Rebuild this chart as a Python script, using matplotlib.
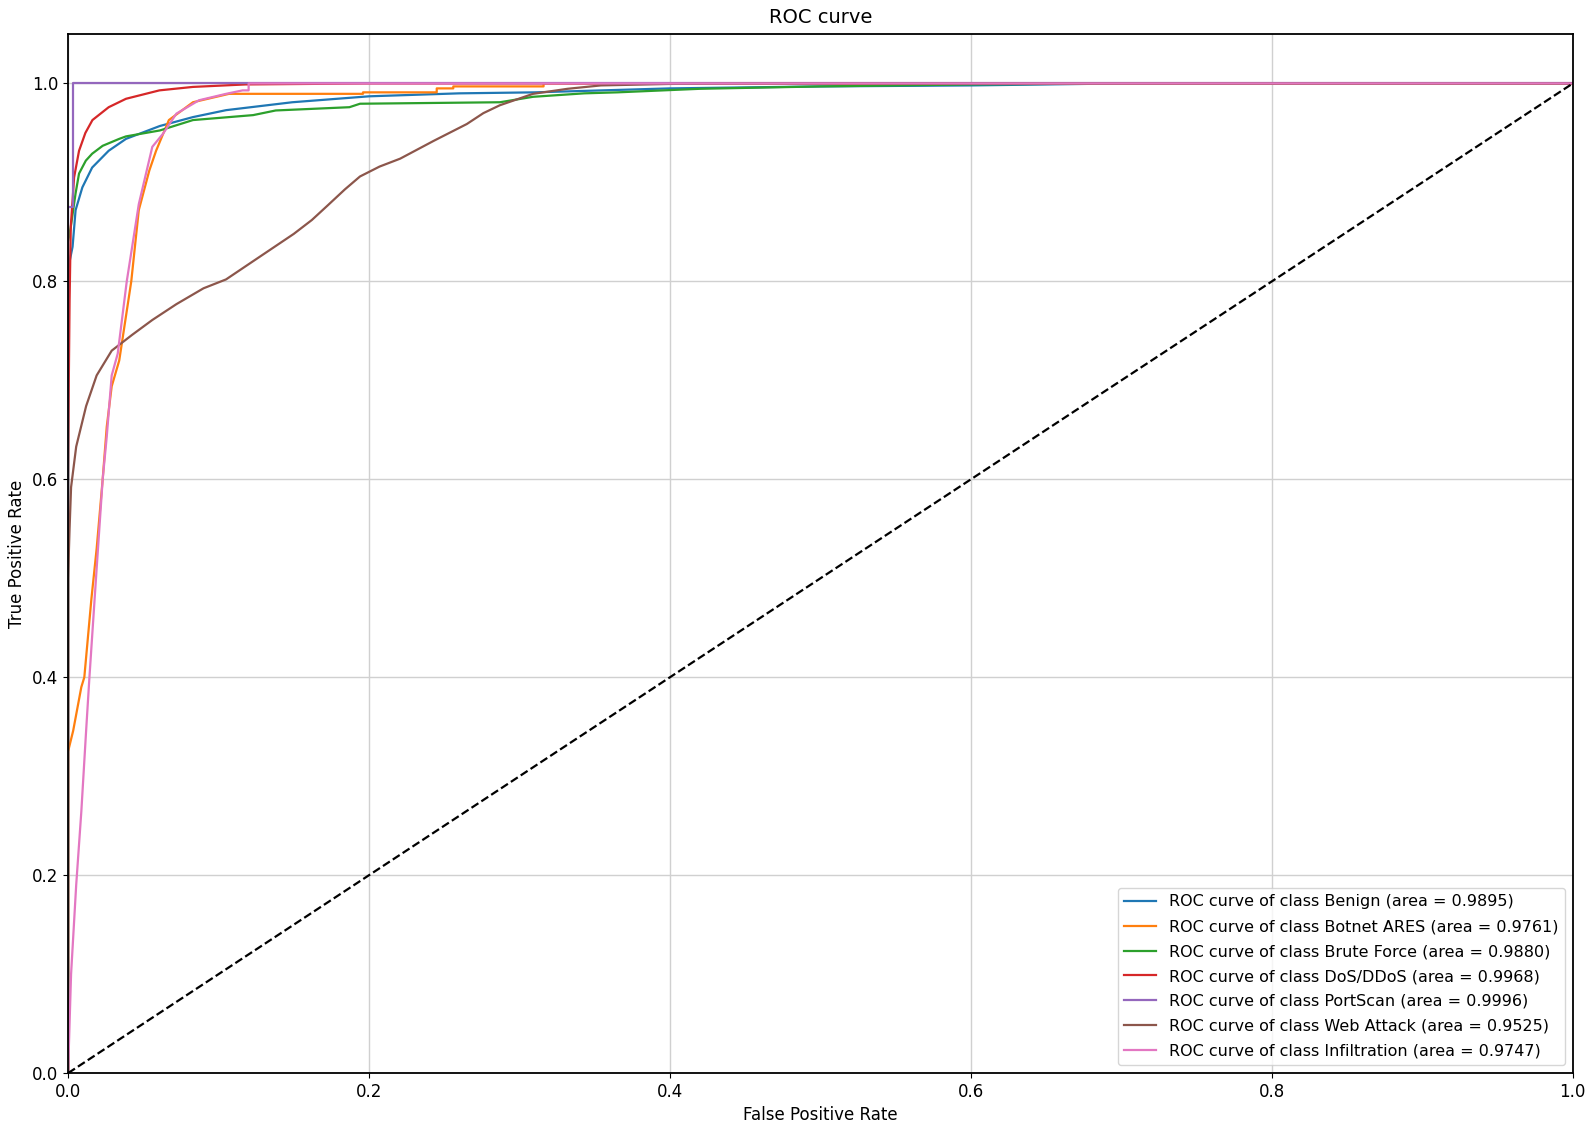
import matplotlib
matplotlib.use('Agg')
import matplotlib.pyplot as plt

# class names and AUC values from the legend
classes = ['Benign', 'Botnet ARES', 'Brute Force', 'DoS/DDoS', 'PortScan', 'Web Attack', 'Infiltration']
areas = [0.9895, 0.9761, 0.9880, 0.9968, 0.9996, 0.9525, 0.9747]

# ROC points
benign_fpr = [0, 0, 0.001, 0.003, 0.005, 0.0095, 0.016, 0.027, 0.0385, 0.061, 0.083, 0.105, 0.149, 0.2, 0.26, 0.31, 0.4, 0.5, 0.6, 0.7, 1.0]
benign_tpr = [0, 0.78, 0.82, 0.835, 0.872, 0.895, 0.915, 0.932, 0.944, 0.957, 0.966, 0.973, 0.981, 0.987, 0.99, 0.991, 0.995, 0.997, 0.998, 1.0, 1.0]

botnet_fpr = [0, 0, 0.0034, 0.0088, 0.0108, 0.0155, 0.019, 0.023, 0.0257, 0.029, 0.034, 0.036, 0.042, 0.047, 0.054, 0.0585, 0.067, 0.083, 0.107, 0.196, 0.196, 0.245, 0.245, 0.256, 0.256, 0.316, 0.316, 1.0]
botnet_tpr = [0, 0.325, 0.346, 0.39, 0.4, 0.479, 0.53, 0.6, 0.653, 0.694, 0.72, 0.74, 0.8, 0.872, 0.912, 0.932, 0.963, 0.981, 0.9895, 0.9895, 0.991, 0.991, 0.995, 0.995, 0.997, 0.997, 1.0, 1.0]

brute_fpr = [0, 0, 0.0018, 0.005, 0.0073, 0.0118, 0.016, 0.023, 0.034, 0.0385, 0.061, 0.083, 0.123, 0.138, 0.187, 0.194, 0.287, 0.309, 0.343, 0.365, 0.42, 0.5, 0.6, 0.7, 1.0]
brute_tpr = [0, 0.84, 0.855, 0.889, 0.909, 0.922, 0.929, 0.937, 0.944, 0.9465, 0.9525, 0.963, 0.968, 0.9727, 0.976, 0.9795, 0.981, 0.9865, 0.99, 0.991, 0.9946, 0.997, 0.999, 1.0, 1.0]

dos_fpr = [0, 0, 0.0005, 0.001, 0.0018, 0.004, 0.0073, 0.0115, 0.0162, 0.027, 0.0385, 0.0607, 0.083, 0.118, 0.2, 1.0]
dos_tpr = [0, 0.6, 0.7, 0.78, 0.855, 0.905, 0.932, 0.95, 0.963, 0.976, 0.9845, 0.993, 0.9965, 0.999, 1.0, 1.0]

portscan_fpr = [0, 0, 0.003, 0.003, 1.0]
portscan_tpr = [0, 0.875, 0.875, 1.0, 1.0]

web_fpr = [0, 0, 0.001, 0.002, 0.0054, 0.012, 0.019, 0.029, 0.0426, 0.056, 0.072, 0.09, 0.105, 0.127, 0.15, 0.162, 0.172, 0.184, 0.194, 0.207, 0.2207, 0.243, 0.265, 0.276, 0.287, 0.309, 0.332, 0.354, 0.4, 0.45, 1.0]
web_tpr = [0, 0.5, 0.55, 0.592, 0.633, 0.674, 0.705, 0.73, 0.746, 0.761, 0.777, 0.793, 0.802, 0.8245, 0.848, 0.862, 0.876, 0.893, 0.906, 0.916, 0.924, 0.942, 0.959, 0.97, 0.978, 0.9895, 0.9946, 0.998, 0.9995, 1.0, 1.0]

infil_fpr = [0, 0.002, 0.0054, 0.0088, 0.012, 0.0142, 0.019, 0.023, 0.0257, 0.029, 0.033, 0.039, 0.0426, 0.047, 0.056, 0.063, 0.072, 0.087, 0.105, 0.116, 0.12, 0.12, 1.0]
infil_tpr = [0, 0.1, 0.19, 0.264, 0.346, 0.4, 0.51, 0.6, 0.643, 0.705, 0.727, 0.8, 0.835, 0.878, 0.936, 0.949, 0.9695, 0.983, 0.9895, 0.993, 0.993, 1.0, 1.0]

curves = [(benign_fpr, benign_tpr), (botnet_fpr, botnet_tpr), (brute_fpr, brute_tpr),
          (dos_fpr, dos_tpr), (portscan_fpr, portscan_tpr), (web_fpr, web_tpr),
          (infil_fpr, infil_tpr)]

fig = plt.figure(figsize=(15.94, 11.32), dpi=100)
ax = fig.add_axes([0.0427, 0.052, 0.944, 0.918])

for i, (fpr, tpr) in enumerate(curves):
    ax.plot(fpr, tpr, color='C%d' % i, lw=1.6,
            label='ROC curve of class {0} (area = {1:0.4f})'.format(classes[i], areas[i]))

ax.plot([0, 1], [0, 1], 'k--', lw=1.6)

ax.set_xlim([0.0, 1.0])
ax.set_ylim([0.0, 1.05])
ax.set_xlabel('False Positive Rate', fontsize=12)
ax.set_ylabel('True Positive Rate', fontsize=12)
ax.set_title('ROC curve', fontsize=14, pad=8)
ax.tick_params(labelsize=12)
ax.grid(True, color='#d0d0d0', lw=1)
for s in ax.spines.values():
    s.set_linewidth(1.3)
ax.legend(loc='lower right', fontsize=11.5, labelspacing=0.62)

plt.savefig('out.png', dpi=100)
